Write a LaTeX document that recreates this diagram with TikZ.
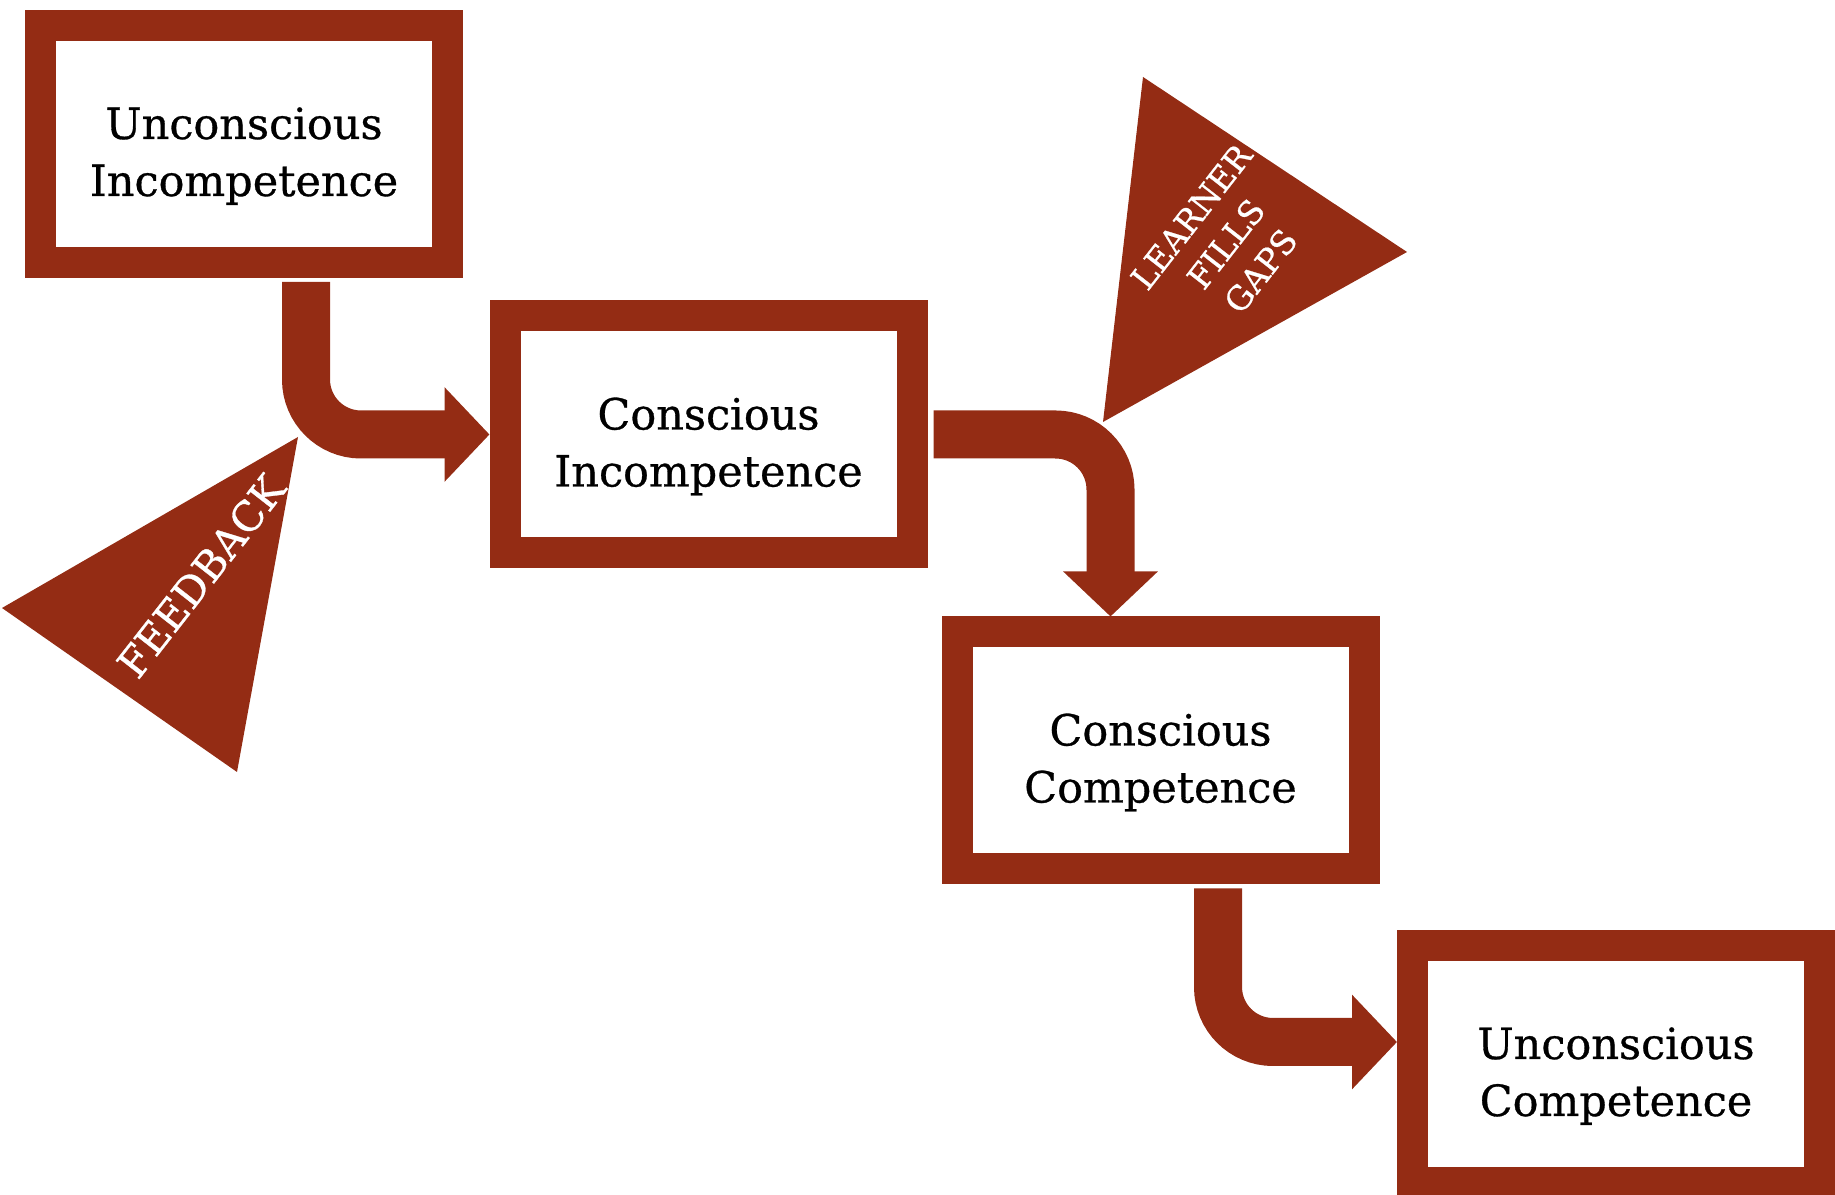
\documentclass[tikz,border=0pt]{standalone}
\usepackage{fontspec}
\setmainfont{DejaVu Serif}[FakeBold=0.7]
\usetikzlibrary{arrows.meta,calc}
\definecolor{rustcol}{RGB}{148,44,20}

\begin{document}
\begin{tikzpicture}[>={Triangle[width=92bp,length=45bp]},line join=miter,
  stagebox/.style={draw=rustcol,line width=31bp,fill=white,outer sep=15.5bp,
    minimum width=407bp,minimum height=237bp,inner sep=0pt,align=center,
    text height=114bp,text depth=10bp,font=\fontsize{43bp}{57bp}\selectfont},
  bentarrow/.style={->,draw=rustcol,line width=48bp,rounded corners=55bp},
  flagtext/.style={text=white,align=center,inner sep=0pt}]
  \useasboundingbox (0bp,0bp) rectangle (1835bp,1195bp);
%%
  % Node: uncinc
  \node[stagebox] (uncinc) at (244bp,1051bp) {Unconscious\\Incompetence};
  % Node: coninc
  \node[stagebox] (coninc) at (708.5bp,760.5bp) {Conscious\\Incompetence};
  % Node: concom
  \node[stagebox] (concom) at (1160.5bp,444.5bp) {Conscious\\Competence};
  % Node: unccom
  \node[stagebox] (unccom) at (1616bp,131bp) {Unconscious\\Competence};
  % Edge: uncinc -> coninc
  \draw[bentarrow] ($(uncinc.south)+(62bp,-4bp)$) |- (coninc.west);
  % Edge: coninc -> concom
  \draw[bentarrow] ($(coninc.east)+(6bp,0bp)$) -| ($(concom.north)+(-50bp,0bp)$);
  % Edge: concom -> unccom
  \draw[bentarrow] ($(concom.south)+(57.5bp,-4bp)$) |- ($(unccom.west)+(0bp,22bp)$);
  % Flag: feedback
  \fill[rustcol] (2bp,587bp) -- (298bp,758bp) -- (237bp,423bp) -- cycle;
  \node[flagtext,rotate=52,font=\fontsize{41bp}{46bp}\selectfont] (feedback) at (201bp,619bp) {FEEDBACK};
  % Flag: gaps
  \fill[rustcol] (1143bp,1118bp) -- (1407bp,943bp) -- (1103bp,773bp) -- cycle;
  \node[flagtext,rotate=52,font=\fontsize{33bp}{44bp}\selectfont] (gaps) at (1226bp,951bp) {LEARNER\\FILLS\\GAPS};
%
\end{tikzpicture}
\end{document}
